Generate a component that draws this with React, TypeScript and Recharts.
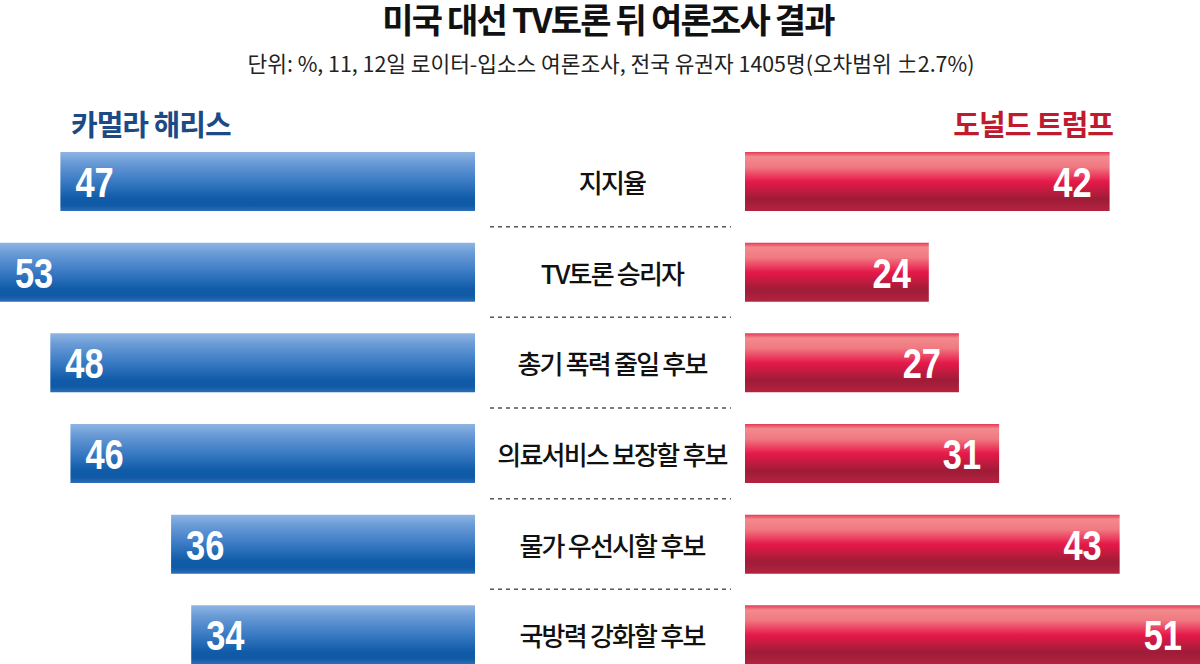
import React from "react"
import { BarChart, Bar, XAxis, YAxis, LabelList } from "recharts"

const categories = [
  "지지율",
  "TV토론 승리자",
  "총기 폭력 줄일 후보",
  "의료서비스 보장할 후보",
  "물가 우선시할 후보",
  "국방력 강화할 후보",
]
const harris = [47, 53, 48, 46, 36, 34]
const trump = [42, 24, 27, 31, 43, 51]

const data = categories.map((name, i) => ({ name, harris: harris[i], trump: trump[i] }))

const KR = "'Noto Sans CJK KR', 'Noto Sans', sans-serif"
const NUM = "'Liberation Sans', Arial, sans-serif"

const CHART_TOP = 136
const CHART_H = 544
const BAND = CHART_H / categories.length

function CenterTick(props: any) {
  const { y, payload, index } = props
  return (
    <g>
      {index > 0 && (
        <line
          x1={490}
          x2={731}
          y1={y - BAND / 2}
          y2={y - BAND / 2}
          stroke="#555"
          strokeWidth={1.5}
          strokeDasharray="4 4"
        />
      )}
      <text
        x={612}
        y={y}
        textAnchor="middle"
        dominantBaseline="central"
        fontFamily={KR}
        fontSize={26}
        fontWeight={500}
        letterSpacing={-1.8}
        fill="#111"
      >
        {payload.value}
      </text>
    </g>
  )
}

function ValueText({ x, y, anchor, value }: any) {
  return (
    <g transform={`translate(${x},${y}) scale(0.8,1)`}>
      <text
        x={0}
        y={0}
        textAnchor={anchor}
        fontFamily={NUM}
        fontSize={43}
        fontWeight="bold"
        fill="#fff"
      >
        {value}
      </text>
    </g>
  )
}

function LeftValue(props: any) {
  const { x, y, width, height, value } = props
  const left = Math.min(x, x + width)
  return <ValueText x={left + 15} y={y + height / 2 + 15.5} anchor="start" value={value} />
}

function RightValue(props: any) {
  const { x, y, width, height, value } = props
  const right = Math.max(x, x + width)
  return <ValueText x={right - 18} y={y + height / 2 + 15.5} anchor="end" value={value} />
}

export default function App() {
  return (
    <div
      style={{
        position: "fixed",
        top: 0,
        left: 0,
        width: 1200,
        height: 664,
        overflow: "hidden",
        background: "#fff",
        fontFamily: KR,
      }}
    >
      <div
        style={{
          position: "absolute",
          top: 1,
          left: 8,
          width: 1200,
          textAlign: "center",
          fontSize: 34,
          lineHeight: "36px",
          fontWeight: 700,
          letterSpacing: -1.8,
          color: "#111",
        }}
      >
        미국 대선 TV토론 뒤 여론조사 결과
      </div>
      <div
        style={{
          position: "absolute",
          top: 50,
          left: 11,
          width: 1200,
          textAlign: "center",
          fontSize: 21.4,
          lineHeight: "26px",
          color: "#222",
        }}
      >
        단위: %, 11, 12일 로이터-입소스 여론조사, 전국 유권자 1405명(오차범위 ±2.7%)
      </div>
      <div
        style={{
          position: "absolute",
          top: 106,
          left: 71,
          fontSize: 29,
          lineHeight: "34px",
          fontWeight: 700,
          letterSpacing: -1,
          color: "#1b4a86",
        }}
      >
        카멀라 해리스
      </div>
      <div
        style={{
          position: "absolute",
          top: 106,
          right: 87,
          fontSize: 29,
          lineHeight: "34px",
          fontWeight: 700,
          letterSpacing: -1,
          color: "#c01a2f",
        }}
      >
        도널드 트럼프
      </div>

      <div style={{ position: "absolute", top: CHART_TOP, left: 0 }}>
        <BarChart
          width={745}
          height={CHART_H}
          data={data}
          layout="vertical"
          margin={{ top: 0, right: 0, bottom: 0, left: 0 }}
        >
          <defs>
            <linearGradient id="blueGrad" x1="0" y1="0" x2="0" y2="1">
              <stop offset="0%" stopColor="#8fb5e3" />
              <stop offset="18%" stopColor="#6a9bd6" />
              <stop offset="48%" stopColor="#3c7cc5" />
              <stop offset="78%" stopColor="#115ca9" />
              <stop offset="90%" stopColor="#0f59a5" />
              <stop offset="100%" stopColor="#2d6db7" />
            </linearGradient>
          </defs>
          <XAxis type="number" domain={[5.8, 53]} reversed hide />
          <YAxis
            type="category"
            dataKey="name"
            orientation="right"
            width={270}
            axisLine={false}
            tickLine={false}
            tick={<CenterTick />}
            interval={0}
          />
          <Bar dataKey="harris" fill="url(#blueGrad)" barSize={59} isAnimationActive={false}>
            <LabelList dataKey="harris" content={<LeftValue />} />
          </Bar>
        </BarChart>
      </div>

      <div style={{ position: "absolute", top: CHART_TOP, left: 745 }}>
        <BarChart
          width={455}
          height={CHART_H}
          data={data}
          layout="vertical"
          margin={{ top: 0, right: 0, bottom: 0, left: 0 }}
        >
          <defs>
            <linearGradient id="redGrad" x1="0" y1="0" x2="0" y2="1">
              <stop offset="0%" stopColor="#e4395a" />
              <stop offset="8%" stopColor="#f28a8c" />
              <stop offset="25%" stopColor="#f07a82" />
              <stop offset="50%" stopColor="#e6194a" />
              <stop offset="80%" stopColor="#9e1c37" />
              <stop offset="100%" stopColor="#b4233f" />
            </linearGradient>
          </defs>
          <XAxis type="number" domain={[5.7, 51]} hide />
          <YAxis type="category" dataKey="name" hide />
          <Bar dataKey="trump" fill="url(#redGrad)" barSize={59} isAnimationActive={false}>
            <LabelList dataKey="trump" content={<RightValue />} />
          </Bar>
        </BarChart>
      </div>
    </div>
  )
}
